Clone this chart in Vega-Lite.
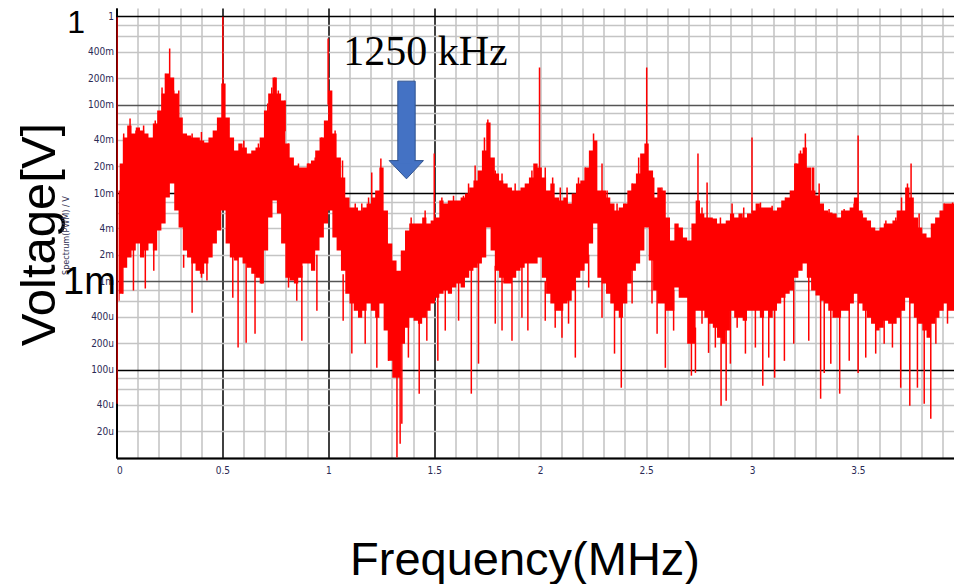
{
"$schema": "https://vega.github.io/schema/vega-lite/v6.json",
"width": 838, "height": 450,
"autosize": {"type": "none"},
"padding": {"left": 116.5, "top": 8, "right": 0, "bottom": 126},
"background": "white",
"config": {"view": {"stroke": null}},
"datasets": {
"band": [
{"f":0.010,"hi":0.0107,"lo":0.000605},{"f":0.020,"hi":0.0216,"lo":0.000726},{"f":0.040,"hi":0.0425,"lo":0.00143},{"f":0.061,"hi":0.0582,"lo":0.00186},{"f":0.081,"hi":0.0472,"lo":0.00223},{"f":0.101,"hi":0.0552,"lo":0.00268},{"f":0.121,"hi":0.0511,"lo":0.00186},{"f":0.141,"hi":0.0472,"lo":0.00223},{"f":0.161,"hi":0.0425,"lo":0.00268},{"f":0.182,"hi":0.0613,"lo":0.00223},
{"f":0.202,"hi":0.0861,"lo":0.00376},{"f":0.222,"hi":0.134,"lo":0.00451},{"f":0.242,"hi":0.226,"lo":0.00889},{"f":0.262,"hi":0.2036,"lo":0.0128},{"f":0.283,"hi":0.134,"lo":0.00633},{"f":0.303,"hi":0.0717,"lo":0.00406},{"f":0.323,"hi":0.0472,"lo":0.00223},{"f":0.343,"hi":0.0448,"lo":0.00186},{"f":0.363,"hi":0.0425,"lo":0.00159},{"f":0.383,"hi":0.0425,"lo":0.00132},
{"f":0.404,"hi":0.0393,"lo":0.00122},{"f":0.424,"hi":0.0373,"lo":0.00159},{"f":0.444,"hi":0.0425,"lo":0.00186},{"f":0.464,"hi":0.0511,"lo":0.00268},{"f":0.484,"hi":0.0717,"lo":0.00376},{"f":0.505,"hi":0.174,"lo":0.00633},{"f":0.525,"hi":0.0717,"lo":0.00268},{"f":0.545,"hi":0.0425,"lo":0.00186},{"f":0.565,"hi":0.0303,"lo":0.00172},{"f":0.585,"hi":0.0364,"lo":0.00186},
{"f":0.605,"hi":0.0328,"lo":0.00159},{"f":0.626,"hi":0.028,"lo":0.00143},{"f":0.646,"hi":0.0303,"lo":0.00122},{"f":0.666,"hi":0.0328,"lo":0.0011},{"f":0.686,"hi":0.0425,"lo":0.000943},{"f":0.706,"hi":0.0861,"lo":0.00223},{"f":0.726,"hi":0.134,"lo":0.00528},{"f":0.747,"hi":0.2036,"lo":0.00822},{"f":0.767,"hi":0.134,"lo":0.00586},{"f":0.787,"hi":0.1117,"lo":0.00268},
{"f":0.807,"hi":0.0364,"lo":0.0011},{"f":0.827,"hi":0.0252,"lo":0.00102},{"f":0.848,"hi":0.0205,"lo":0.000943},{"f":0.868,"hi":0.0195,"lo":0.0011},{"f":0.888,"hi":0.0195,"lo":0.00159},{"f":0.908,"hi":0.0216,"lo":0.00159},{"f":0.928,"hi":0.0233,"lo":0.00132},{"f":0.948,"hi":0.0303,"lo":0.00223},{"f":0.969,"hi":0.0425,"lo":0.00313},{"f":0.989,"hi":0.0663,"lo":0.00451},
{"f":1.009,"hi":0.145,"lo":0.00633},{"f":1.029,"hi":0.0472,"lo":0.00313},{"f":1.049,"hi":0.0252,"lo":0.00223},{"f":1.070,"hi":0.015,"lo":0.00132},{"f":1.090,"hi":0.00889,"lo":0.000726},{"f":1.110,"hi":0.00685,"lo":0.00056},{"f":1.130,"hi":0.00685,"lo":0.000466},{"f":1.150,"hi":0.00633,"lo":0.000388},{"f":1.170,"hi":0.00685,"lo":0.000466},{"f":1.191,"hi":0.0076,"lo":0.00056},
{"f":1.211,"hi":0.00889,"lo":0.000466},{"f":1.231,"hi":0.01067,"lo":0.000388},{"f":1.251,"hi":0.0195,"lo":0.00056},{"f":1.271,"hi":0.00633,"lo":0.000277},{"f":1.292,"hi":0.00268,"lo":0.000126},{"f":1.312,"hi":0.00172,"lo":0.0000811},{"f":1.332,"hi":0.00132,"lo":0.0000811},{"f":1.352,"hi":0.00223,"lo":0.000197},{"f":1.372,"hi":0.00376,"lo":0.000299},{"f":1.392,"hi":0.00451,"lo":0.000388},
{"f":1.413,"hi":0.00451,"lo":0.000359},{"f":1.433,"hi":0.00451,"lo":0.000332},{"f":1.453,"hi":0.00528,"lo":0.000388},{"f":1.473,"hi":0.00451,"lo":0.000466},{"f":1.493,"hi":0.00488,"lo":0.00056},{"f":1.514,"hi":0.00528,"lo":0.000654},{"f":1.534,"hi":0.00822,"lo":0.000726},{"f":1.554,"hi":0.0076,"lo":0.000786},{"f":1.574,"hi":0.00822,"lo":0.000726},{"f":1.594,"hi":0.00822,"lo":0.00085},
{"f":1.614,"hi":0.00822,"lo":0.000943},{"f":1.635,"hi":0.00889,"lo":0.00085},{"f":1.655,"hi":0.00987,"lo":0.0011},{"f":1.675,"hi":0.01154,"lo":0.00132},{"f":1.695,"hi":0.01386,"lo":0.00143},{"f":1.715,"hi":0.018,"lo":0.00159},{"f":1.735,"hi":0.0303,"lo":0.00186},{"f":1.756,"hi":0.0629,"lo":0.00406},{"f":1.776,"hi":0.0252,"lo":0.00223},{"f":1.796,"hi":0.0166,"lo":0.00132},
{"f":1.816,"hi":0.01386,"lo":0.0011},{"f":1.836,"hi":0.0128,"lo":0.000943},{"f":1.857,"hi":0.01154,"lo":0.000943},{"f":1.877,"hi":0.01067,"lo":0.0011},{"f":1.897,"hi":0.01067,"lo":0.00132},{"f":1.917,"hi":0.01154,"lo":0.00143},{"f":1.937,"hi":0.0128,"lo":0.00159},{"f":1.957,"hi":0.015,"lo":0.00159},{"f":1.978,"hi":0.0216,"lo":0.00159},{"f":1.998,"hi":0.0195,"lo":0.00186},
{"f":2.018,"hi":0.015,"lo":0.0011},{"f":2.038,"hi":0.01067,"lo":0.000726},{"f":2.058,"hi":0.0128,"lo":0.00056},{"f":2.079,"hi":0.00889,"lo":0.000466},{"f":2.099,"hi":0.00822,"lo":0.000466},{"f":2.119,"hi":0.00889,"lo":0.00056},{"f":2.139,"hi":0.0076,"lo":0.000605},{"f":2.159,"hi":0.00987,"lo":0.000786},{"f":2.179,"hi":0.0128,"lo":0.0011},{"f":2.200,"hi":0.01386,"lo":0.00132},
{"f":2.220,"hi":0.0195,"lo":0.00159},{"f":2.240,"hi":0.0303,"lo":0.00268},{"f":2.260,"hi":0.0393,"lo":0.00451},{"f":2.280,"hi":0.01067,"lo":0.0011},{"f":2.301,"hi":0.01067,"lo":0.000943},{"f":2.321,"hi":0.00889,"lo":0.000726},{"f":2.341,"hi":0.0076,"lo":0.00056},{"f":2.361,"hi":0.00633,"lo":0.000466},{"f":2.381,"hi":0.00685,"lo":0.000388},{"f":2.401,"hi":0.0076,"lo":0.00056},
{"f":2.422,"hi":0.01067,"lo":0.000943},{"f":2.442,"hi":0.0128,"lo":0.00132},{"f":2.462,"hi":0.0166,"lo":0.00159},{"f":2.482,"hi":0.028,"lo":0.00223},{"f":2.502,"hi":0.0364,"lo":0.00406},{"f":2.523,"hi":0.018,"lo":0.00172},{"f":2.543,"hi":0.00889,"lo":0.000786},{"f":2.563,"hi":0.01154,"lo":0.00056},{"f":2.583,"hi":0.01067,"lo":0.00056},{"f":2.603,"hi":0.00528,"lo":0.000466},
{"f":2.623,"hi":0.0029,"lo":0.000466},{"f":2.644,"hi":0.00451,"lo":0.00085},{"f":2.664,"hi":0.00406,"lo":0.000654},{"f":2.684,"hi":0.00313,"lo":0.000654},{"f":2.704,"hi":0.0029,"lo":0.000197},{"f":2.724,"hi":0.00451,"lo":0.000197},{"f":2.744,"hi":0.00822,"lo":0.000466},{"f":2.765,"hi":0.00586,"lo":0.000466},{"f":2.785,"hi":0.00528,"lo":0.000388},{"f":2.805,"hi":0.00528,"lo":0.000332},
{"f":2.825,"hi":0.00514,"lo":0.000299},{"f":2.845,"hi":0.00451,"lo":0.00023},{"f":2.866,"hi":0.00451,"lo":0.000197},{"f":2.886,"hi":0.00488,"lo":0.000277},{"f":2.906,"hi":0.00586,"lo":0.000466},{"f":2.926,"hi":0.00528,"lo":0.000388},{"f":2.946,"hi":0.00586,"lo":0.000388},{"f":2.966,"hi":0.00528,"lo":0.000359},{"f":2.987,"hi":0.00586,"lo":0.000466},{"f":3.007,"hi":0.00633,"lo":0.000466},
{"f":3.027,"hi":0.0076,"lo":0.000466},{"f":3.047,"hi":0.00685,"lo":0.000388},{"f":3.067,"hi":0.00685,"lo":0.000466},{"f":3.088,"hi":0.00685,"lo":0.000388},{"f":3.108,"hi":0.00633,"lo":0.000466},{"f":3.128,"hi":0.00685,"lo":0.00056},{"f":3.148,"hi":0.00822,"lo":0.000654},{"f":3.168,"hi":0.00889,"lo":0.000726},{"f":3.188,"hi":0.01067,"lo":0.000786},{"f":3.209,"hi":0.0216,"lo":0.0011},
{"f":3.229,"hi":0.028,"lo":0.00132},{"f":3.249,"hi":0.0328,"lo":0.00159},{"f":3.269,"hi":0.0195,"lo":0.0011},{"f":3.289,"hi":0.01067,"lo":0.000786},{"f":3.310,"hi":0.0094,"lo":0.00069},{"f":3.330,"hi":0.0076,"lo":0.000605},{"f":3.350,"hi":0.00633,"lo":0.00056},{"f":3.370,"hi":0.00601,"lo":0.000466},{"f":3.390,"hi":0.00586,"lo":0.000388},{"f":3.410,"hi":0.00528,"lo":0.000388},
{"f":3.431,"hi":0.00633,"lo":0.000466},{"f":3.451,"hi":0.00633,"lo":0.000466},{"f":3.471,"hi":0.00685,"lo":0.00056},{"f":3.491,"hi":0.00889,"lo":0.000726},{"f":3.511,"hi":0.00633,"lo":0.00056},{"f":3.532,"hi":0.00528,"lo":0.000466},{"f":3.552,"hi":0.00488,"lo":0.000388},{"f":3.572,"hi":0.00406,"lo":0.000332},{"f":3.592,"hi":0.00376,"lo":0.000277},{"f":3.612,"hi":0.00406,"lo":0.000299},
{"f":3.632,"hi":0.00451,"lo":0.000359},{"f":3.653,"hi":0.00451,"lo":0.000332},{"f":3.673,"hi":0.00488,"lo":0.000332},{"f":3.693,"hi":0.00633,"lo":0.000388},{"f":3.713,"hi":0.00633,"lo":0.000466},{"f":3.733,"hi":0.01154,"lo":0.000654},{"f":3.754,"hi":0.00889,"lo":0.00056},{"f":3.774,"hi":0.00528,"lo":0.000388},{"f":3.794,"hi":0.00406,"lo":0.000332},{"f":3.814,"hi":0.00348,"lo":0.000277},
{"f":3.834,"hi":0.00313,"lo":0.00023},{"f":3.854,"hi":0.00451,"lo":0.000332},{"f":3.875,"hi":0.00528,"lo":0.000388},{"f":3.895,"hi":0.00633,"lo":0.000466},{"f":3.915,"hi":0.0076,"lo":0.00056},{"f":3.935,"hi":0.0076,"lo":0.000466},{"f":3.955,"hi":0.0076,"lo":0.000466}
],
"spikes": [
{"f":0.002,"a":0.98,"b":0.0000412},{"f":0.064,"a":0.0699,"b":0.03},{"f":0.215,"a":0.157,"b":0.08},{"f":0.251,"a":0.434,"b":0.15},{"f":0.294,"a":0.145,"b":0.07},{"f":0.502,"a":0.99,"b":0.1},{"f":0.714,"a":0.1033,"b":0.06},{"f":0.747,"a":0.2036,"b":0.1},{"f":0.796,"a":0.1117,"b":0.05},{"f":0.999,"a":0.563,"b":0.1},
{"f":1.205,"a":0.0171,"b":0.006},{"f":1.248,"a":0.0246,"b":0.01},{"f":1.5,"a":0.028,"b":0.004},{"f":1.693,"a":0.0205,"b":0.01},{"f":1.753,"a":0.068,"b":0.03},{"f":1.997,"a":0.264,"b":0.015},{"f":2.059,"a":0.015,"b":0.008},{"f":2.252,"a":0.0472,"b":0.02},{"f":2.292,"a":0.0216,"b":0.008},{"f":2.503,"a":0.264,"b":0.03},
{"f":2.745,"a":0.028,"b":0.006},{"f":2.788,"a":0.01315,"b":0.005},{"f":3.0,"a":0.0425,"b":0.006},{"f":3.208,"a":0.0216,"b":0.01},{"f":3.252,"a":0.0472,"b":0.02},{"f":3.285,"a":0.0195,"b":0.008},{"f":3.501,"a":0.0448,"b":0.006},{"f":3.706,"a":0.0089,"b":0.005},{"f":3.751,"a":0.0216,"b":0.008},
{"f":0.034,"a":0.0472,"b":0.02},{"f":0.092,"a":0.0511,"b":0.02},{"f":0.128,"a":0.0582,"b":0.02},{"f":0.183,"a":0.0663,"b":0.03},{"f":0.231,"a":0.226,"b":0.1},{"f":0.27,"a":0.145,"b":0.07},{"f":0.357,"a":0.0472,"b":0.02},{"f":0.401,"a":0.049,"b":0.02},{"f":0.435,"a":0.0364,"b":0.015},{"f":0.483,"a":0.0663,"b":0.03},{"f":0.601,"a":0.0393,"b":0.015},
{"f":0.67,"a":0.0364,"b":0.015},{"f":0.701,"a":0.0663,"b":0.03},{"f":0.733,"a":0.157,"b":0.07},{"f":0.764,"a":0.145,"b":0.07},{"f":0.812,"a":0.0364,"b":0.015},{"f":0.859,"a":0.0216,"b":0.01},{"f":0.906,"a":0.0216,"b":0.01},{"f":0.938,"a":0.0252,"b":0.01},{"f":0.969,"a":0.0425,"b":0.02},{"f":1.032,"a":0.0511,"b":0.02},
{"f":1.067,"a":0.0233,"b":0.01},{"f":1.127,"a":0.0076,"b":0.004},{"f":1.158,"a":0.0076,"b":0.004},{"f":1.19,"a":0.00889,"b":0.004},{"f":1.391,"a":0.00528,"b":0.003},{"f":1.457,"a":0.00633,"b":0.003},{"f":1.536,"a":0.00889,"b":0.005},{"f":1.591,"a":0.0093,"b":0.005},{"f":1.638,"a":0.0093,"b":0.005},{"f":1.662,"a":0.0128,"b":0.006},
{"f":1.737,"a":0.0425,"b":0.02},{"f":1.788,"a":0.018,"b":0.008},{"f":1.82,"a":0.0166,"b":0.008},{"f":1.882,"a":0.0128,"b":0.006},{"f":1.961,"a":0.018,"b":0.008},{"f":2.024,"a":0.0195,"b":0.008},{"f":2.095,"a":0.01154,"b":0.005},{"f":2.127,"a":0.01154,"b":0.005},{"f":2.181,"a":0.015,"b":0.007},{"f":2.213,"a":0.0195,"b":0.01},
{"f":2.316,"a":0.01067,"b":0.005},{"f":2.363,"a":0.0076,"b":0.004},{"f":2.434,"a":0.0128,"b":0.006},{"f":2.465,"a":0.0252,"b":0.01},{"f":2.536,"a":0.015,"b":0.006},{"f":2.575,"a":0.01154,"b":0.005},{"f":2.764,"a":0.00685,"b":0.004},{"f":2.851,"a":0.00528,"b":0.003},{"f":2.906,"a":0.0076,"b":0.004},{"f":2.961,"a":0.00685,"b":0.004},
{"f":3.04,"a":0.0078,"b":0.004},{"f":3.095,"a":0.0072,"b":0.004},{"f":3.158,"a":0.00889,"b":0.004},{"f":3.229,"a":0.0303,"b":0.015},{"f":3.291,"a":0.0195,"b":0.008},{"f":3.317,"a":0.0128,"b":0.006},{"f":3.364,"a":0.0066,"b":0.004},{"f":3.435,"a":0.0066,"b":0.004},{"f":3.482,"a":0.0076,"b":0.004},{"f":3.521,"a":0.00586,"b":0.003},
{"f":3.632,"a":0.00488,"b":0.003},{"f":3.679,"a":0.00528,"b":0.003},{"f":3.734,"a":0.0128,"b":0.006},{"f":3.789,"a":0.00586,"b":0.003},{"f":3.907,"a":0.0076,"b":0.004},{"f":3.947,"a":0.0078,"b":0.004},
{"f":0.030,"a":0.002,"b":0.000726},{"f":0.080,"a":0.003,"b":0.000786},{"f":0.136,"a":0.003,"b":0.000828},{"f":0.176,"a":0.003,"b":0.00132},{"f":0.357,"a":0.002,"b":0.000442},{"f":0.401,"a":0.002,"b":0.0011},{"f":0.549,"a":0.0025,"b":0.000654},{"f":0.574,"a":0.0025,"b":0.000178},{"f":0.612,"a":0.002,"b":0.000202},{"f":0.654,"a":0.0015,"b":0.000256},
{"f":0.875,"a":0.0015,"b":0.000213},{"f":1.111,"a":0.0008,"b":0.000152},{"f":1.174,"a":0.0007,"b":0.000197},{"f":1.229,"a":0.0006,"b":0.000105},{"f":1.284,"a":0.0004,"b":0.000126},{"f":1.324,"a":0.0002,"b":0.0000101},{"f":1.339,"a":0.0002,"b":0.0000145},{"f":1.347,"a":0.0003,"b":0.0000244},{"f":1.429,"a":0.0005,"b":0.0000535},{"f":1.517,"a":0.0008,"b":0.000126},
{"f":1.675,"a":0.0015,"b":0.0000535},{"f":1.709,"a":0.002,"b":0.000117},{"f":1.867,"a":0.0012,"b":0.000213},{"f":1.942,"a":0.002,"b":0.000277},{"f":2.103,"a":0.0007,"b":0.00023},{"f":2.166,"a":0.001,"b":0.000137},{"f":2.351,"a":0.0007,"b":0.000152},{"f":2.383,"a":0.0006,"b":0.0000625},{"f":2.552,"a":0.001,"b":0.000256},{"f":2.591,"a":0.0007,"b":0.000105},
{"f":2.714,"a":0.0003,"b":0.0000855},{"f":2.733,"a":0.0003,"b":0.000092},{"f":2.795,"a":0.0005,"b":0.000155},{"f":2.854,"a":0.0003,"b":0.0000391},{"f":2.878,"a":0.0004,"b":0.0000445},{"f":2.898,"a":0.0006,"b":0.000117},{"f":3.051,"a":0.0006,"b":0.0000659},{"f":3.107,"a":0.0006,"b":0.0000811},{"f":3.153,"a":0.0008,"b":0.000126},{"f":3.324,"a":0.0008,"b":0.0000469},
{"f":3.341,"a":0.0008,"b":0.000092},{"f":3.414,"a":0.0006,"b":0.0000535},{"f":3.501,"a":0.0008,"b":0.000092},{"f":3.702,"a":0.0006,"b":0.0000625},{"f":3.745,"a":0.0008,"b":0.0000391},{"f":3.781,"a":0.0005,"b":0.0000625},{"f":3.813,"a":0.0004,"b":0.0000412},{"f":3.844,"a":0.0004,"b":0.0000279},
{"f":0.317,"a":0.002,"b":0.00143},{"f":0.427,"a":0.002,"b":0.00102},{"f":0.686,"a":0.0015,"b":0.000943},{"f":0.812,"a":0.0015,"b":0.00085},{"f":0.851,"a":0.0015,"b":0.000605},{"f":0.946,"a":0.002,"b":0.000466},{"f":1.070,"a":0.0012,"b":0.000359},{"f":1.378,"a":0.0005,"b":0.000137},{"f":1.465,"a":0.0006,"b":0.000213},{"f":1.552,"a":0.001,"b":0.000277},
{"f":1.615,"a":0.0012,"b":0.000359},{"f":1.788,"a":0.0015,"b":0.000332},{"f":1.820,"a":0.0012,"b":0.000277},{"f":1.914,"a":0.0015,"b":0.000388},{"f":2.024,"a":0.001,"b":0.000359},{"f":2.071,"a":0.0007,"b":0.000299},{"f":2.134,"a":0.0008,"b":0.000332},{"f":2.229,"a":0.002,"b":0.00085},{"f":2.292,"a":0.0012,"b":0.000388},{"f":2.434,"a":0.0015,"b":0.00056},
{"f":2.528,"a":0.002,"b":0.00056},{"f":2.630,"a":0.0008,"b":0.000277},{"f":2.764,"a":0.0006,"b":0.000332},{"f":2.827,"a":0.0005,"b":0.000178},{"f":2.930,"a":0.0006,"b":0.000299},{"f":2.969,"a":0.0006,"b":0.000152},{"f":3.016,"a":0.0006,"b":0.000178},{"f":3.079,"a":0.0006,"b":0.000137},{"f":3.197,"a":0.001,"b":0.000197},{"f":3.268,"a":0.0012,"b":0.000213},
{"f":3.372,"a":0.0007,"b":0.000117},{"f":3.459,"a":0.0008,"b":0.000126},{"f":3.537,"a":0.0006,"b":0.000137},{"f":3.584,"a":0.0005,"b":0.000152},{"f":3.624,"a":0.0005,"b":0.000197},{"f":3.663,"a":0.0006,"b":0.000178},{"f":3.868,"a":0.0006,"b":0.000197},{"f":3.923,"a":0.0007,"b":0.000332}
]
},
"layer": [
{
"data": {"name": "band"},
"mark": {"type": "area", "color": "#ff0000", "clip": true, "interpolate": "step"},
"encoding": {
"x": {"field": "f", "type": "quantitative",
 "scale": {"domain": [0, 3.956], "nice": false, "zero": false},
 "axis": {
  "values": [0,0.1,0.2,0.3,0.4,0.5,0.6,0.7,0.8,0.9,1,1.1,1.2,1.3,1.4,1.5,1.6,1.7,1.8,1.9,2,2.1,2.2,2.3,2.4,2.5,2.6,2.7,2.8,2.9,3,3.1,3.2,3.3,3.4,3.5,3.6,3.7,3.8,3.9],
  "tickCount": 100,
  "title": "Frequency(MHz)",
  "titleFont": "Liberation Sans", "titleFontSize": 47, "titleFontWeight": "normal", "titleColor": "#000000",
  "titleX": 408, "titleY": 116, "titleAlign": "center", "titleBaseline": "alphabetic",
  "grid": true,
  "gridColor": {"condition": {"test": "datum.value < 1.6 && abs(datum.value*2 - round(datum.value*2)) < 0.001", "value": "#000000"}, "value": "#c2c2c2"},
  "gridWidth": 1.5,
  "domain": true, "domainColor": "#000000", "domainWidth": 2,
  "ticks": false,
  "labelExpr": "abs(datum.value*2 - round(datum.value*2)) < 0.001 ? format(datum.value, '~g') : ''",
  "labelFont": "Liberation Sans Narrow, DejaVu Sans Condensed, sans-serif", "labelFontSize": 10, "labelColor": "#2a2a55",
  "labelPadding": 7, "labelDx": 3, "labelOverlap": false
 }},
"y": {"field": "hi", "type": "quantitative",
 "scale": {"type": "log", "domain": [0.00001, 1.245], "nice": false},
 "axis": {
  "values": [0.00001,0.00002,0.00004,0.00006,0.00008,0.0001,0.0002,0.0004,0.0006,0.0008,0.001,0.002,0.004,0.006,0.008,0.01,0.02,0.04,0.06,0.08,0.1,0.2,0.4,0.6,0.8,1],
  "tickCount": 100,
  "title": "Voltage[V]",
  "titleFont": "Liberation Sans", "titleFontSize": 49, "titleFontWeight": "normal", "titleColor": "#000000",
  "titleAngle": 270, "titleX": -62, "titleY": 226, "titleAlign": "center", "titleBaseline": "alphabetic",
  "grid": true,
  "gridColor": {"condition": [
    {"test": "abs(datum.value-1) < 1e-9 || abs(datum.value-0.01) < 1e-9 || abs(datum.value-0.0001) < 1e-11", "value": "#000000"},
    {"test": "abs(datum.value-0.1) < 1e-9 || abs(datum.value-0.001) < 1e-10 || abs(datum.value-0.00001) < 1e-12", "value": "#555555"}
   ], "value": "#c4c4c4"},
  "gridWidth": 1.5,
  "domain": true, "domainColor": "#000000", "domainWidth": 2,
  "ticks": false,
  "labelExpr": "abs(datum.value-1) < 1e-9 ? '1' : datum.value < 1.5e-5 ? '' : (round(datum.value/pow(10, floor(log(datum.value)/LN10 + 1e-6))) == 6 || round(datum.value/pow(10, floor(log(datum.value)/LN10 + 1e-6))) == 8) ? '' : datum.value >= 0.00099 ? round(datum.value*1000) + 'm' : round(datum.value*1000000) + 'u'",
  "labelFont": "Liberation Sans Narrow, DejaVu Sans Condensed, sans-serif", "labelFontSize": 10, "labelColor": "#2a2a55",
  "labelPadding": 3, "labelOverlap": false, "labelBaseline": "middle"
 }},
"y2": {"field": "lo"}
}
},
{
"data": {"name": "spikes"},
"mark": {"type": "rule", "color": "#ff0000", "strokeWidth": 1.5, "clip": true},
"encoding": {
"x": {"field": "f", "type": "quantitative", "scale": {"domain": [0, 3.956], "nice": false, "zero": false}},
"y": {"field": "a", "type": "quantitative", "scale": {"type": "log", "domain": [0.00001, 1.245], "nice": false}},
"y2": {"field": "b"}
}
},
{
"data": {"values": [{"x1": 1.328, "x2": 1.410, "t": 0.1849, "b": 0.0225}]},
"mark": {"type": "rect", "fill": "#4472C4", "stroke": "#2F528F", "strokeWidth": 1},
"encoding": {
"x": {"field": "x1", "type": "quantitative", "scale": {"domain": [0, 3.956], "nice": false, "zero": false}},
"x2": {"field": "x2"},
"y": {"field": "t", "type": "quantitative", "scale": {"type": "log", "domain": [0.00001, 1.245], "nice": false}},
"y2": {"field": "b"}
}
},
{
"data": {"values": [{"f": 1.287, "t": 0.0233, "b": 0.0233}, {"f": 1.369, "t": 0.0233, "b": 0.01448}, {"f": 1.449, "t": 0.0233, "b": 0.0233}]},
"mark": {"type": "area", "fill": "#4472C4", "stroke": "#2F528F", "strokeWidth": 1, "opacity": 1},
"encoding": {
"x": {"field": "f", "type": "quantitative", "scale": {"domain": [0, 3.956], "nice": false, "zero": false}},
"y": {"field": "t", "type": "quantitative", "scale": {"type": "log", "domain": [0.00001, 1.245], "nice": false}},
"y2": {"field": "b"}
}
},
{
"data": {"values": [{"x1": 1.3315, "x2": 1.4065, "t": 0.026, "b": 0.0215}]},
"mark": {"type": "rect", "fill": "#4472C4", "strokeWidth": 0},
"encoding": {
"x": {"field": "x1", "type": "quantitative", "scale": {"domain": [0, 3.956], "nice": false, "zero": false}},
"x2": {"field": "x2"},
"y": {"field": "t", "type": "quantitative", "scale": {"type": "log", "domain": [0.00001, 1.245], "nice": false}},
"y2": {"field": "b"}
}
},
{
"data": {"values": [{"f": 1.07, "v": 0.2786, "label": "1250 kHz"}]},
"mark": {"type": "text", "font": "Liberation Serif", "fontSize": 42, "color": "#000000", "align": "left", "baseline": "alphabetic"},
"encoding": {
"x": {"field": "f", "type": "quantitative", "scale": {"domain": [0, 3.956], "nice": false, "zero": false}},
"y": {"field": "v", "type": "quantitative", "scale": {"type": "log", "domain": [0.00001, 1.245], "nice": false}},
"text": {"field": "label"}
}
},
{
"data": {"values": [{"f": -0.2385, "v": 0.0033, "label": "Spectrum(PWM) / V"}]},
"mark": {"type": "text", "font": "Liberation Sans Narrow, DejaVu Sans Condensed, sans-serif", "fontSize": 9, "color": "#333355", "align": "center", "baseline": "middle", "angle": 270},
"encoding": {
"x": {"field": "f", "type": "quantitative", "scale": {"domain": [0, 3.956], "nice": false, "zero": false}},
"y": {"field": "v", "type": "quantitative", "scale": {"type": "log", "domain": [0.00001, 1.245], "nice": false}},
"text": {"field": "label"}
}
},
{
"data": {"values": [{"f": -0.191, "v": 0.642, "label": "1"}]},
"mark": {"type": "text", "font": "Liberation Sans", "fontSize": 32, "color": "#000000", "align": "center", "baseline": "alphabetic"},
"encoding": {
"x": {"field": "f", "type": "quantitative", "scale": {"domain": [0, 3.956], "nice": false, "zero": false}},
"y": {"field": "v", "type": "quantitative", "scale": {"type": "log", "domain": [0.00001, 1.245], "nice": false}},
"text": {"field": "label"}
}
},
{
"data": {"values": [{"f": -0.1275, "v": 0.000726, "label": "1m"}]},
"mark": {"type": "text", "font": "Liberation Sans", "fontSize": 38, "color": "#000000", "align": "center", "baseline": "alphabetic"},
"encoding": {
"x": {"field": "f", "type": "quantitative", "scale": {"domain": [0, 3.956], "nice": false, "zero": false}},
"y": {"field": "v", "type": "quantitative", "scale": {"type": "log", "domain": [0.00001, 1.245], "nice": false}},
"text": {"field": "label"}
}
}
]
}
